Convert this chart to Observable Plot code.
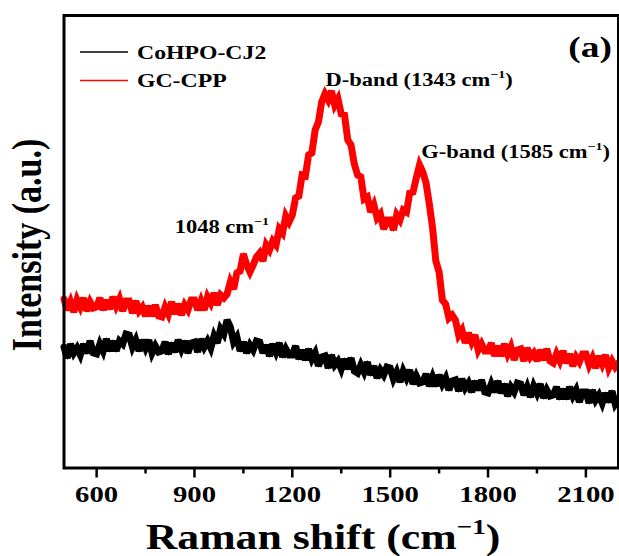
<!DOCTYPE html>
<html><head><meta charset="utf-8">
<script src="https://cdn.jsdelivr.net/npm/d3@7"></script>
<script src="https://cdn.jsdelivr.net/npm/@observablehq/plot@0.6"></script>
<style>
body{margin:0;background:#fff}
svg{display:block}
svg text{font-family:"Liberation Serif","Times New Roman",Tinos,Times,serif !important;font-weight:bold}
</style>
</head><body><div id="chart"></div>
<script>
// Raman shift sampling (cm^-1), every 10 cm^-1 from 500 to 2200
const wavenumber = d3.range(500, 2201, 10);

// GC-CPP (red) intensity, a.u. (noisy trace)
const gccpp = [
  169,158,166,156,168,161,170,157,166,160,
  161,170,158,168,159,171,162,169,157,167,
  167,155,167,157,161,152,162,152,163,152,
  151,161,154,166,154,164,153,163,158,168,
  168,158,167,158,171,165,175,163,173,170,
  174,186,179,195,197,214,203,196,203,211,
  215,207,223,218,227,223,239,235,252,246,
  253,270,272,293,292,313,315,338,346,366,
  374,368,377,363,369,354,353,328,323,304,
  293,291,269,271,256,263,250,254,239,248,
  248,238,253,248,258,256,275,276,290,303,
  296,285,264,240,207,196,168,164,150,153,
  148,133,138,125,135,126,133,118,124,117,
  117,125,112,122,112,124,114,121,108,118,
  119,107,120,111,115,107,118,108,119,107,
  105,114,107,117,105,114,102,111,106,114,
  114,103,110,100,112,104,113,100,107,101,
  105
];

// CoHPO-CJ2 (black) intensity, a.u. (noisy trace)
const cohpo = [
  121,110,124,115,120,113,124,115,127,115,
  114,124,117,129,117,127,117,127,124,134,
  133,121,128,117,128,120,128,115,122,116,
  117,126,114,125,116,128,119,127,115,125,
  126,116,129,121,127,120,132,125,139,134,
  148,141,126,131,117,126,115,123,118,127,
  126,115,123,112,124,116,125,111,119,113,
  113,122,109,118,108,119,109,115,102,111,
  112,100,113,103,107,99,109,99,110,97,
  95,103,96,106,93,102,90,98,93,101,
  100,89,96,86,97,90,98,84,92,85,
  86,94,82,91,82,93,84,90,78,87,
  88,77,89,80,85,76,87,78,88,76,
  75,84,76,87,75,84,72,81,76,85,
  84,73,81,71,82,75,84,70,78,72,
  73,81,69,79,69,81,72,78,66,76,
  76,65,78,68,73,65,75,66,77,64,
  69
];

const seriesNames = ["CoHPO-CJ2", "GC-CPP"];
const seriesColors = ["#000000", "#ff0000"];
const xTicks = [600, 900, 1200, 1500, 1800, 2100];
const xMinorTicks = [750, 1050, 1350, 1650, 1950];
const annotations = [
  {parts: ["D-band (1343 cm", "\u22121", ")"], w: 1303, v: 382},
  {parts: ["G-band (1585 cm", "\u22121", ")"], w: 1597, v: 310},
  {parts: ["1048 cm", "\u22121", ""], w: 841, v: 235}
];
const xTitle = ["Raman shift (cm", "\u22121", ")"];
const yTitle = "Intensity (a.u.)";
const panelLabel = "(a)";

const rows = [];
[cohpo, gccpp].forEach((vals, k) => {
  vals.forEach((v, i) => rows.push({w: wavenumber[i], v, s: seriesNames[k]}));
});

const SX = 1.25; // horizontal stretch of the reference
const W = 619, H = 556, mL = 63.5, mR = 1, mT = 15, mB = 88.5;

const plot = Plot.plot({
  width: W, height: H,
  marginLeft: mL, marginRight: mR, marginTop: mT, marginBottom: mB,
  style: {background: "#fff"},
  x: {domain: [500, 2200]},
  y: {domain: [0, 452.5], axis: null},
  color: {domain: seriesNames, range: seriesColors},
  marks: [
    Plot.line(rows, {x: "w", y: "v", z: "s", stroke: "s", strokeWidth: 7, strokeLinejoin: "miter", strokeMiterlimit: 3}),
    Plot.line(rows, {x: "w", y: "v", z: "s", stroke: "s", strokeWidth: 1.2, strokeLinejoin: "miter", strokeMiterlimit: 10}),
    Plot.frame({stroke: "#000", strokeWidth: 3}),
    Plot.axisX(xTicks, {tickSize: 10, strokeWidth: 2.5, tickPadding: 8, fontSize: 23, tickFormat: d => String(d), label: null}),
    Plot.axisX(xMinorTicks, {tickSize: 6, strokeWidth: 2.5, tickFormat: () => "", label: null})
  ]
});

const svg = d3.select(plot);
svg.selectAll("g[aria-label='x-axis tick label'] text").each(function() {
  const t = d3.select(this);
  t.attr("transform", (t.attr("transform") || "") + ` scale(${SX},1)`);
});

const sx = plot.scale("x"), sy = plot.scale("y");
const g = svg.append("g").attr("fill", "#000").attr("text-anchor", "start");

function rich(x, y, parts, size, anchor) {
  const t = g.append("text").attr("transform", `translate(${x},${y}) scale(${SX},1)`)
    .attr("font-size", size).attr("text-anchor", anchor);
  t.append("tspan").text(parts[0]);
  if (parts[1]) {
    t.append("tspan").attr("font-size", size * 0.62).attr("dy", -size * 0.42).text(parts[1]);
    t.append("tspan").attr("dy", size * 0.42).text(parts[2]);
  }
  return t;
}

annotations.forEach(a => rich(sx.apply(a.w), sy.apply(a.v), a.parts, 18, "start"));
rich(323, 549, xTitle, 35, "middle");

g.append("text")
  .attr("transform", `translate(41,245) rotate(-90) scale(1,${SX})`)
  .attr("font-size", 34).attr("text-anchor", "middle").text(yTitle);

g.append("text").attr("transform", `translate(612,57) scale(${SX},1)`)
  .attr("font-size", 30).attr("text-anchor", "end").text(panelLabel);

seriesNames.forEach((name, i) => {
  const yy = 52 + i * 28.5;
  g.append("line").attr("x1", 80).attr("x2", 128).attr("y1", yy).attr("y2", yy)
    .attr("stroke", seriesColors[i]).attr("stroke-width", 1.5);
  g.append("text").attr("transform", `translate(137,${yy + 6.5}) scale(${SX},1)`)
    .attr("font-size", 19).attr("text-anchor", "start").text(name);
});

document.getElementById("chart").appendChild(plot);
</script>
</body></html>
